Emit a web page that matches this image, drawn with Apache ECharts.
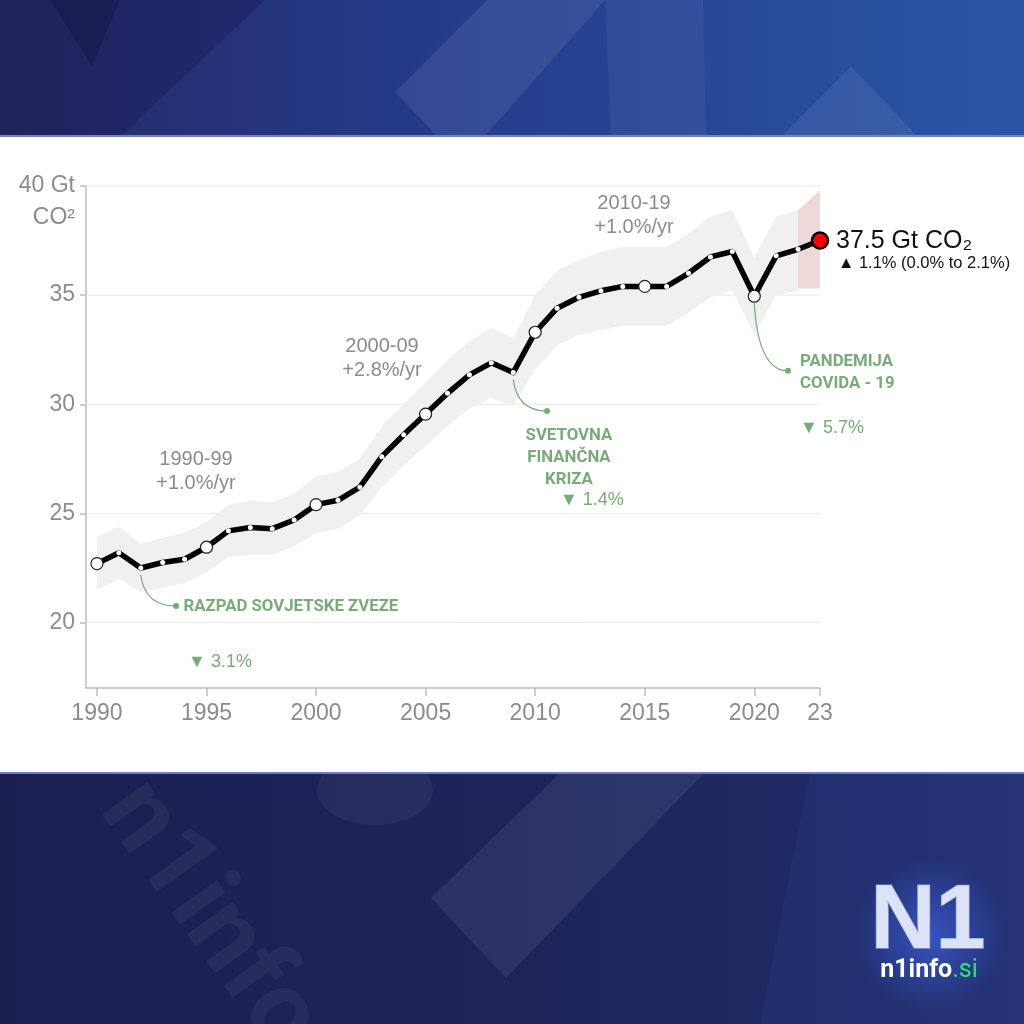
<!DOCTYPE html>
<html><head><meta charset="utf-8">
<script src="https://cdn.jsdelivr.net/npm/echarts@6/dist/echarts.min.js"></script>
<style>html,body{margin:0;padding:0;background:#fff}#c{width:1024px;height:1024px}</style>
</head><body><div id="c"></div>
<script>
// ---------- data ----------
const years = [1990,1991,1992,1993,1994,1995,1996,1997,1998,1999,2000,2001,2002,2003,2004,2005,2006,2007,2008,2009,2010,2011,2012,2013,2014,2015,2016,2017,2018,2019,2020,2021,2022,2023];
const emissions = [22.7,23.2,22.5,22.75,22.9,23.45,24.2,24.35,24.3,24.7,25.4,25.6,26.2,27.6,28.6,29.55,30.5,31.35,31.9,31.45,33.3,34.4,34.9,35.2,35.4,35.4,35.4,36.0,36.75,37.0,34.95,36.8,37.1,37.5];
const bandYears = [1990,1991,1992,1993,1994,1995,1996,1997,1998,1999,2000,2001,2002,2003,2004,2005,2006,2007,2008,2009,2010,2011,2012,2013,2014,2015,2016,2017,2018,2019,2020,2021,2022];
const bandUpper = [23.9,24.4,23.6,23.9,24.1,24.6,25.4,25.6,25.5,25.9,26.7,26.9,27.5,29.0,30.0,31.0,32.0,32.9,33.5,33.0,35.0,36.1,36.6,37.0,37.2,37.2,37.2,37.8,38.6,38.9,36.7,38.6,38.9];
const bandLower = [21.5,22.0,21.4,21.6,21.8,22.3,23.0,23.1,23.1,23.5,24.1,24.3,24.9,26.2,27.2,28.1,29.0,29.8,30.3,29.9,31.6,32.7,33.2,33.4,33.6,33.6,33.6,34.2,34.9,35.2,33.2,35.0,35.2];
const projYears = [2022, 2023];
const projUpper = [38.9, 39.8];
const projLower = [35.3, 35.3];
const xTicks = [1990,1995,2000,2005,2010,2015,2020,2023];
const yTicks = [20,25,30,35,40];
const bigMarkerYears = [1990,1995,2000,2005,2010,2015,2020];
const periodLabels = [['1990-99','+1.0%/yr'],['2000-09','+2.8%/yr'],['2010-19','+1.0%/yr']];
const eventLabels = ['RAZPAD SOVJETSKE ZVEZE', 'SVETOVNA\nFINANČNA\nKRIZA', 'PANDEMIJA\nCOVIDA - 19'];
const eventYears = [1992, 2009, 2020];
const eventDrops = ['▼ 3.1%', '▼ 1.4%', '▼ 5.7%'];
const lastLabel = '37.5 Gt CO₂';
const lastChange = '▲ 1.1% (0.0% to 2.1%)';

// ---------- style ----------
const GRAY = '#8c8c8c', AXIS = '#bdbdbd', GREEN = '#79ab79';
const SANS = "'Liberation Sans', Arial, 'DejaVu Sans', sans-serif";
const GREENFONT = "Roboto, 'Open Sans', sans-serif";

const chart = echarts.init(document.getElementById('c'), null, {renderer: 'canvas'});

const lineData = years.map((y, i) => {
  const big = bigMarkerYears.indexOf(y) >= 0;
  const last = i === years.length - 1;
  return {
    value: [y, emissions[i]],
    symbolSize: last ? 16 : (big ? 12 : 5),
    itemStyle: last ? {color: '#ff0000', borderColor: '#000', borderWidth: 2.5}
         : big ? {color: '#fff', borderColor: '#222', borderWidth: 1.2}
               : {color: '#fff', borderWidth: 0}
  };
});

function bandRender(xs, up, lo, color) {
  return function (params, api) {
    const pts = [];
    for (let i = 0; i < xs.length; i++) pts.push(api.coord([xs[i], up[i]]));
    for (let i = xs.length - 1; i >= 0; i--) pts.push(api.coord([xs[i], lo[i]]));
    return {type: 'polygon', shape: {points: pts}, style: {fill: color}};
  };
}

const bgGraphics = [
  {type: 'rect', shape: {x: 0, y: 0, width: 1024, height: 137}, z: -10,
   style: {fill: new echarts.graphic.LinearGradient(0, 0, 1, 0, [
     {offset: 0, color: '#252a66'}, {offset: 0.4, color: '#243a88'}, {offset: 1, color: '#2a56a6'}])}},
  {type: 'polygon', z: -9, shape: {points: [[0,0],[265,0],[120,137],[0,137]]}, style: {fill: 'rgba(20,20,70,0.30)'}},
  {type: 'polygon', z: -9, shape: {points: [[50,0],[120,0],[92,66]]}, style: {fill: 'rgba(15,15,60,0.35)'}},
  {type: 'polygon', z: -9, shape: {points: [[487,0],[605,0],[484,137],[438,137],[395,92]]}, style: {fill: 'rgba(255,255,255,0.08)'}},
  {type: 'polygon', z: -9, shape: {points: [[605,0],[703,0],[706,137],[611,137]]}, style: {fill: 'rgba(255,255,255,0.05)'}},
  {type: 'polygon', z: -9, shape: {points: [[851,66],[918,137],[781,137]]}, style: {fill: 'rgba(255,255,255,0.07)'}},
  {type: 'rect', z: -8, shape: {x: 0, y: 135, width: 1024, height: 2}, style: {fill: '#7284c8'}},
  {type: 'rect', shape: {x: 0, y: 772, width: 1024, height: 252}, z: -10,
   style: {fill: new echarts.graphic.LinearGradient(0, 0, 1, 0, [
     {offset: 0, color: '#1a1f50'}, {offset: 0.5, color: '#1c2459'}, {offset: 1, color: '#22306e'}])}},
  {type: 'polygon', z: -9, shape: {points: [[559,774],[703,774],[506,978],[431,898]]}, style: {fill: 'rgba(255,255,255,0.07)'}},
  {type: 'polygon', z: -9, shape: {points: [[810,774],[1024,774],[1024,1024],[760,1024]]}, style: {fill: 'rgba(60,90,200,0.10)'}},
  {type: 'ellipse', z: -9, shape: {cx: 375, cy: 790, rx: 58, ry: 35}, style: {fill: 'rgba(255,255,255,0.05)'}},
  {type: 'text', z: -9, x: 120, y: 795, rotation: -0.95,
   style: {text: 'n1info.si', font: 'bold 105px ' + GREENFONT, fill: 'rgba(255,255,255,0.05)', textVerticalAlign: 'middle'}},
  {type: 'rect', z: -8, shape: {x: 0, y: 772, width: 1024, height: 2}, style: {fill: '#6f7fbf'}},
  {type: 'circle', z: -7, shape: {cx: 930, cy: 935, r: 75},
   style: {fill: new echarts.graphic.RadialGradient(0.5, 0.5, 0.5, [
     {offset: 0, color: 'rgba(70,110,255,0.55)'}, {offset: 1, color: 'rgba(70,110,255,0)'}])}},
  {type: 'text', z: -6, x: 928, y: 923,
   style: {text: 'N1', font: 'bold 90px ' + SANS, textAlign: 'center', textVerticalAlign: 'middle',
     fill: '#dde3f6', stroke: '#8e9bd0', lineWidth: 1.5}},
  {type: 'text', z: -6, x: 929, y: 971,
   style: {text: '{w|n1info}{g|.si}', textAlign: 'center', textVerticalAlign: 'middle',
     rich: {w: {font: 'bold 25px ' + GREENFONT, fill: '#ffffff'}, g: {font: '25px ' + GREENFONT, fill: '#37e06a'}}}}
];

chart.setOption({
  backgroundColor: '#ffffff',
  animation: false,
  grid: {left: 86, right: 204, top: 186, bottom: 336, containLabel: false},
  xAxis: {
    type: 'value', min: 1989.5, max: 2023,
    axisLine: {show: true, lineStyle: {color: AXIS, width: 1.5}},
    axisTick: {show: true, customValues: xTicks, length: 8, lineStyle: {color: AXIS, width: 1.5}},
    axisLabel: {customValues: xTicks, color: GRAY, fontSize: 23, fontFamily: SANS, margin: 14,
      formatter: v => (v === 2023 ? '23' : String(v))},
    splitLine: {show: false}
  },
  yAxis: {
    type: 'value', min: 17, max: 40,
    axisLine: {show: true, lineStyle: {color: AXIS, width: 1.5}},
    axisTick: {show: true, customValues: yTicks, length: 6, lineStyle: {color: AXIS, width: 1.5}},
    axisLabel: {customValues: yTicks, color: GRAY, fontSize: 23, fontFamily: SANS, margin: 11,
      formatter: v => (v === 40 ? '40 Gt' : String(v))},
    splitLine: {show: false}
  },
  graphic: bgGraphics,
  series: [
    {type: 'custom', z: 1, silent: true, data: yTicks,
     renderItem: (params, api) => {
       const v = api.value(0);
       const a = api.coord([1989.5, v]), b = api.coord([2023, v]);
       return {type: 'line', shape: {x1: a[0], y1: a[1], x2: b[0], y2: b[1]}, style: {stroke: '#e9e9e9', lineWidth: 1}};
     }},
    {type: 'custom', z: 2, silent: true, data: [0], renderItem: bandRender(bandYears, bandUpper, bandLower, '#f0f0f0')},
    {type: 'custom', z: 2, silent: true, data: [0], renderItem: bandRender(projYears, projUpper, projLower, '#efd8d8')},
    {type: 'line', z: 5, data: lineData, symbol: 'circle', showAllSymbol: true,
     lineStyle: {color: '#000', width: 5.5, join: 'round', cap: 'round'}, clip: false}
  ]
});

// ---------- annotations anchored in data space ----------
function px(x, y) { return chart.convertToPixel({gridIndex: 0}, [x, y]); }
const ann = [];
function text(x, y, t, font, fill, align, lh) {
  const p = px(x, y);
  ann.push({type: 'text', z: 50, x: p[0], y: p[1],
    style: {text: t, font: font, fill: fill, textAlign: align || 'center', textVerticalAlign: 'middle', lineHeight: lh || 0}});
}
const periodAnchors = [[1994.52, 26.92], [2003.01, 32.12], [2014.51, 38.65]];
periodLabels.forEach((p, i) => text(periodAnchors[i][0], periodAnchors[i][1], p.join('\n'), '20px ' + SANS, GRAY, 'center', 24));

const eventDots = [[1993.61, 20.76], [2010.54, 29.69], [2021.54, 31.53]];
const eventText = [[1993.95, 20.74, 'left'], [2011.54, 27.54, 'center'], [2022.09, 31.46, 'left']];
const eventDropAt = [[1994.16, 18.2], [2011.13, 25.62], [2022.09, 28.91]];
eventYears.forEach((yr, i) => {
  const v = emissions[years.indexOf(yr)];
  const s = px(yr, v); s[1] += 7;
  const d = px(eventDots[i][0], eventDots[i][1]);
  ann.push({type: 'bezierCurve', z: 40, silent: true,
    shape: {x1: s[0], y1: s[1], x2: d[0], y2: d[1], cpx1: s[0] + 4, cpy1: d[1]},
    style: {stroke: GREEN, lineWidth: 1.2, fill: null}});
  ann.push({type: 'circle', z: 41, shape: {cx: d[0], cy: d[1], r: 3}, style: {fill: GREEN}});
  text(eventText[i][0], eventText[i][1], eventLabels[i], 'bold 16.8px ' + GREENFONT, GREEN, eventText[i][2], 22);
  text(eventDropAt[i][0], eventDropAt[i][1], eventDrops[i], '18px ' + SANS, GREEN, 'left');
});

text(2023.73, 37.48, lastLabel, '25px ' + SANS, '#111', 'left');
text(2023.82, 36.47, lastChange, '16.5px ' + SANS, '#111', 'left');

const p40 = px(1989.5, 40);
ann.push({type: 'text', z: 50, x: p40[0] - 11, y: p40[1] + 32,
  style: {text: 'CO²', font: '23px ' + SANS, fill: GRAY, textAlign: 'right', textVerticalAlign: 'middle'}});

chart.setOption({graphic: bgGraphics.concat(ann)}, {replaceMerge: ['graphic']});
</script></body></html>
